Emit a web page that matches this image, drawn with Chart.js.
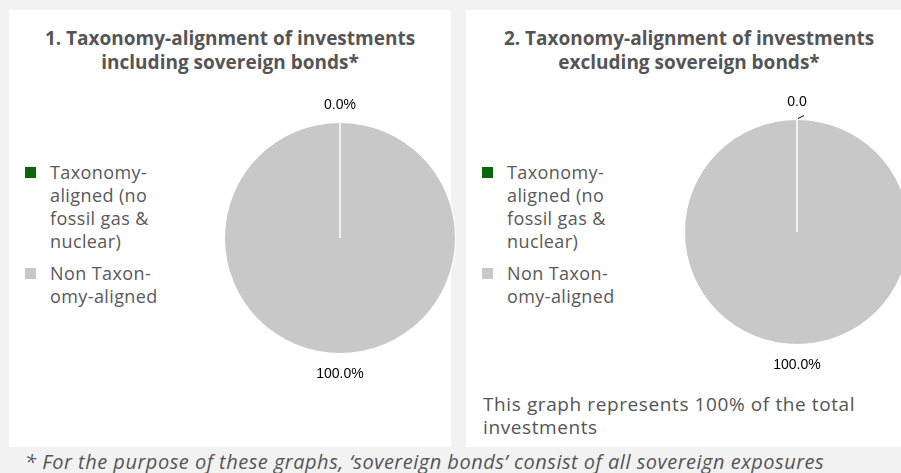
<!DOCTYPE html>
<html>
<head>
<meta charset="utf-8">
<script src="https://cdn.jsdelivr.net/npm/chart.js@4.4.1/dist/chart.umd.min.js"></script>
<style>
  html, body { margin: 0; padding: 0; }
  body {
    width: 901px; height: 473px; overflow: hidden; position: relative;
    background: #f2f2f2; font-family: "Open Sans", sans-serif; color: #595959;
  }
  .panel { position: absolute; top: 10px; height: 437px; background: #fff; }
  .title {
    position: absolute; left: 0; right: 0; top: 16px; text-align: center;
    font-weight: bold; font-size: 19px; line-height: 24px; color: #555;
  }
  .legend { position: absolute; left: 16px; top: 151px; width: 135px; }
  .legend .item {
    position: relative; padding-left: 25px; font-size: 18px; letter-spacing: 0.4px;
    line-height: 23px; margin-bottom: 9px;
  }
  .legend .box { position: absolute; left: 0; top: 6px; width: 11px; height: 11px; }
  .note {
    position: absolute; left: 17px; top: 383px; font-size: 19px; letter-spacing: 0.6px;
    line-height: 23px; color: #555; white-space: nowrap;
  }
  .foot {
    position: absolute; left: 25px; top: 448px; font-size: 20px; font-style: italic;
    letter-spacing: 0.5px; color: #555; white-space: nowrap;
  }
  canvas.pie { position: absolute; }
</style>
</head>
<body>

<div class="panel" style="left:9px; width:442px;">
  <div class="title">1. Taxonomy-alignment of investments<br>including sovereign bonds*</div>
  <div class="legend" id="legend1"></div>
</div>

<div class="panel" style="left:466px; width:446px;">
  <div class="title">2. Taxonomy-alignment of investments<br>excluding sovereign bonds*</div>
  <div class="legend" id="legend2"></div>
  <div class="note">This graph represents 100% of the total<br>investments</div>
</div>

<div class="foot">* For the purpose of these graphs, ‘sovereign bonds’ consist of all sovereign exposures</div>

<div style="position:absolute; left:190px; top:88px; width:300px; height:300px;"><canvas id="pie1" class="pie"></canvas></div>
<div style="position:absolute; left:647px; top:82px; width:300px; height:300px;"><canvas id="pie2" class="pie"></canvas></div>

<script>
// 범례 항목 (soft hyphen 으로 줄바꿈 위치 지정)
const categories = ['Taxonomy-aligned (no fossil gas & nuclear)', 'Non Taxon\u00ADomy-aligned'];
const colors = ['#0b660b', '#c8c8c8'];

// 그래프 1: 국채 포함
const valuesIncl = [0, 100];
const labelsIncl = ['0.0%', '100.0%'];

// 그래프 2: 국채 제외
const valuesExcl = [0, 100];
const labelsExcl = ['0.0', '100.0%'];

// HTML 범례 생성
function buildLegend(id) {
    const el = document.getElementById(id);
    categories.forEach((name, i) => {
        const item = document.createElement('div');
        item.className = 'item';
        item.innerHTML = '<span class="box" style="background:' + colors[i] + '"></span>';
        item.appendChild(document.createTextNode(name));
        el.appendChild(item);
    });
}
buildLegend('legend1');
buildLegend('legend2');

// 조각 바깥쪽에 값 라벨 그리기
const outsideLabels = {
    id: 'outsideLabels',
    afterDatasetsDraw(chart, args, opts) {
        const ctx = chart.ctx;
        const meta = chart.getDatasetMeta(0);
        ctx.save();
        ctx.font = '14px "Liberation Sans", Arial, sans-serif';
        ctx.fillStyle = '#000';
        ctx.textAlign = 'center';
        ctx.textBaseline = 'middle';
        meta.data.forEach((arc, i) => {
            const p = arc.getProps(['x', 'y', 'startAngle', 'endAngle', 'outerRadius'], true);
            const mid = (p.startAngle + p.endAngle) / 2;
            const r = p.outerRadius + opts.dist;
            const tx = p.x + Math.cos(mid) * r;
            const ty = p.y + Math.sin(mid) * r + 2;
            ctx.fillText(opts.texts[i], tx, ty);
            if (opts.leader && opts.leader[i]) {
                const ex = p.x + Math.cos(mid) * p.outerRadius;
                const ey = p.y + Math.sin(mid) * p.outerRadius;
                ctx.strokeStyle = '#000';
                ctx.lineWidth = 1;
                ctx.beginPath();
                ctx.moveTo(ex + 1, ey - 1);
                ctx.lineTo(ex + 7, ey - 4);
                ctx.stroke();
            }
        });
        ctx.restore();
    }
};

function makePie(id, values, texts, pad, leader) {
    return new Chart(document.getElementById(id), {
        type: 'pie',
        data: {
            labels: categories,
            datasets: [{
                data: values,
                backgroundColor: colors,
                borderColor: '#ffffff',
                borderWidth: 1
            }]
        },
        options: {
            responsive: true,
            maintainAspectRatio: false,
            animation: false,
            layout: { padding: pad },
            plugins: {
                legend: { display: false },
                tooltip: { enabled: false },
                outsideLabels: { texts: texts, dist: 19, leader: leader }
            }
        },
        plugins: [outsideLabels]
    });
}

makePie('pie1', valuesIncl, labelsIncl, 34, null);
makePie('pie2', valuesExcl, labelsExcl, 37, [true, false]);
</script>
</body>
</html>
